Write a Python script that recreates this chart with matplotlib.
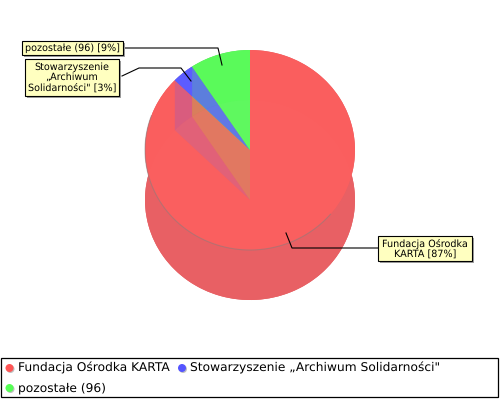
import numpy as np
import matplotlib
matplotlib.use("Agg")
import matplotlib.pyplot as plt
from matplotlib.patches import Wedge, Polygon, Rectangle, Circle
from matplotlib.transforms import Affine2D

plt.rcParams["text.hinting"] = "no_hinting"

names = ["Fundacja Ośrodka KARTA", "Stowarzyszenie „Archiwum Solidarności\"", "pozostałe (96)"]
shares = [87.3, 3.4, 9.3]
colors = ["#ff5555", "#5555ff", "#55ff55"]
top_colors = ["#fa5e5e", "#5e5eff", "#5cfa5c"]
side_colors = ["#e46064", "#6060d0", "#60d060"]
through_colors = ["#ff6464", "#7070f0", "#70f070"]
labels = ["Fundacja Ośrodka\nKARTA [87%]", "Stowarzyszenie\n„Archiwum\nSolidarności\" [3%]", "pozostałe (96) [9%]"]

fig = plt.figure(figsize=(5, 4), dpi=100)
ax = fig.add_axes([0, 0, 1, 1])
ax.set_xlim(0, 500)
ax.set_ylim(400, 0)
ax.axis("off")

cx, rx, ry = 250, 105, 100
top_y, bot_y = 150, 200


def ell(y):
    return Affine2D().scale(rx, -ry).translate(cx, y) + ax.transData


def pt(ang, y):
    return cx + rx * np.cos(np.radians(ang)), y - ry * np.sin(np.radians(ang))


def wall(t1, t2):
    ts = np.linspace(t1, t2, 200)
    return [pt(t, top_y) for t in ts] + [pt(t, bot_y) for t in ts[::-1]]


# wedge angles, clockwise from 12 o'clock
angles = []
a = 90
for s in shares:
    b = a - s * 3.6
    angles.append((b, a))
    a = b

# bottom ellipse and outer walls
for (t1, t2), c in zip(angles, side_colors):
    ax.add_patch(Wedge((0, 0), 1, t1, t2, fc=c, ec="none", transform=ell(bot_y), zorder=1))
    ax.add_patch(Polygon(wall(t1, t2), fc=c, ec="none", zorder=2))

# top ellipse
for (t1, t2), c in zip(angles, top_colors):
    ax.add_patch(Wedge((0, 0), 1, t1, t2, fc=c, ec="none", transform=ell(top_y), zorder=3))

# the lower parts show through the top
for (t1, t2), c in zip(angles, through_colors):
    ax.add_patch(Wedge((0, 0), 1, t1, t2, fc=c, ec="none", alpha=0.18, transform=ell(bot_y), zorder=4))
for (t1, t2), c in list(zip(angles, colors))[1:]:
    ax.add_patch(Polygon(wall(t1, t2), fc=c, ec="none", alpha=0.2, zorder=4))

# rim of the top ellipse over the wall
rim = np.linspace(-200, -40, 200)
rx_pts, ry_pts = zip(*[pt(t, top_y) for t in rim])
ax.plot(rx_pts, ry_pts, color="#808080", lw=0.8, alpha=0.5, zorder=4)

# leader lines
leaders = [
    [(378, 248), (292, 248), (286, 233)],
    [(122, 76), (139, 68), (181, 68), (191, 81)],
    [(123, 48), (218, 48), (222, 65)],
]
boxes = [(378, 236, 94, 25), (25, 59, 94, 37), (22, 41, 101, 14)]
for pts, (x, y, w, h), txt in zip(leaders, boxes, labels):
    xs, ys = zip(*pts)
    ax.plot(xs, ys, color="black", lw=0.8, zorder=5)
    ax.add_patch(Rectangle((x + 2, y + 2), w, h, fc="#a0a0a0", ec="none", zorder=6))
    ax.add_patch(Rectangle((x, y), w, h, fc="#ffffc0", ec="black", lw=0.8, zorder=7))
    ax.text(x + w / 2, y + h / 2, txt, ha="center", va="center", fontsize=6.9,
            linespacing=1.05, zorder=8)

# legend
ax.add_patch(Rectangle((1, 358), 497, 39, fc="white", ec="black", lw=0.9, zorder=5))
legend_pos = [(9.5, 17.5, 368), (182, 190, 368), (9.5, 17.5, 388)]
for (mx, tx, y), n, c in zip(legend_pos, names, colors):
    ax.add_patch(Circle((mx + 1, y + 1), 4, fc="#c0c0c0", ec="none", zorder=6))
    ax.add_patch(Circle((mx, y), 4, fc=c, ec="none", zorder=7))
    ax.text(tx, y, n, ha="left", va="center", fontsize=8.8, zorder=7)

fig.savefig("out.png", dpi=100)
